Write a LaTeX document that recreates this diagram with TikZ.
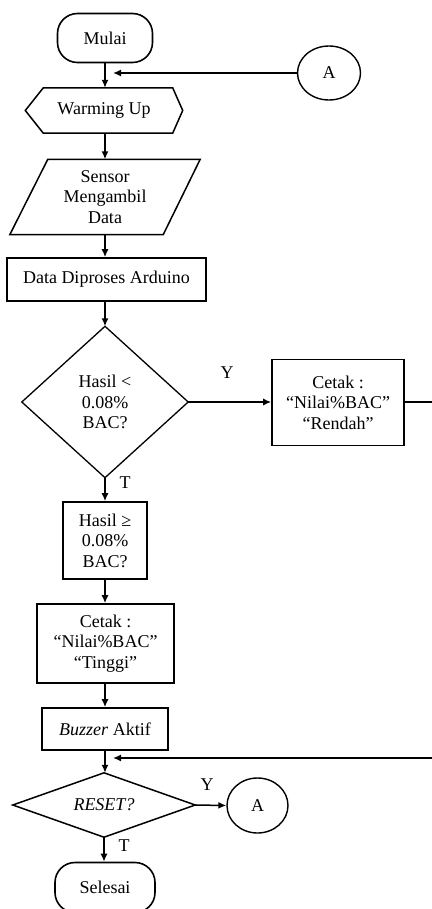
\documentclass[tikz,border=0pt]{standalone}
\usepackage{fontspec}
\setmainfont{Liberation Serif}
\usetikzlibrary{shapes.geometric,arrows.meta,calc}
\begin{document}
\begin{tikzpicture}[x=1pt,y=-1pt,
  every node/.style={font=\fontsize{18}{20.5}\selectfont, align=center, inner sep=0pt},
  line/.style={line width=1.5pt},
  arr/.style={line width=1.5pt,-{Latex[length=8pt,width=7pt]}},
  box/.style={draw, line width=1.6pt, rectangle},
  term/.style={draw, line width=1.6pt, rectangle, rounded corners=20pt},
  conn/.style={draw, line width=1.4pt, ellipse}
]
\useasboundingbox (0,0) rectangle (431,909);

% nodes
\node[term, minimum width=95pt, minimum height=49pt] (mulai) at (105,38) {Mulai};
\node[conn, minimum width=63pt, minimum height=54pt] (a1) at (329,73) {A};
\node[minimum width=157pt, minimum height=45pt] (warm) at (104,110.5) {Warming Up};
\draw[line] (warm.west) -- ($(warm.north west)+(18,0)$) -- ($(warm.north east)+(-10,0)$) -- (warm.east) -- ($(warm.south east)+(-10,0)$) -- ($(warm.south west)+(18,0)$) -- cycle;

\node[minimum width=190pt, minimum height=75pt] (sensor) at (105,197) {Sensor\\Mengambil\\Data};
\draw[line] ($(sensor.north west)+(38,0)$) -- (sensor.north east) -- ($(sensor.south east)+(-37,0)$) -- (sensor.south west) -- cycle;

\node[box, minimum width=199pt, minimum height=43pt] (proc) at (106.5,279.5) {Data Diproses Arduino};

\node[minimum width=166pt, minimum height=151pt] (d1) at (105,402) {Hasil <\\0.08\%\\BAC?};
\draw[line width=1.3pt] (d1.north) -- (d1.east) -- (d1.south) -- (d1.west) -- cycle;

\node[box, minimum width=132pt, minimum height=86pt] (c1) at (338,402.5) {Cetak :\\“Nilai\%BAC”\\“Rendah”};

\node[box, minimum width=84pt, minimum height=77pt] (h2) at (105,540.5) {Hasil ≥\\0.08\%\\BAC?};
\node[box, minimum width=137pt, minimum height=79pt] (c2) at (105.5,643.5) {Cetak :\\“Nilai\%BAC”\\“Tinggi”};
\node[box, minimum width=126pt, minimum height=42pt] (buz) at (105,729) {\textit{Buzzer} Aktif};

\node[minimum width=182pt, minimum height=64pt] (d2) at (104,805) {\textit{RESET?}};
\draw[line] (d2.north) -- (d2.east) -- (d2.south) -- (d2.west) -- cycle;

\node[conn, minimum width=61pt, minimum height=55pt] (a2) at (257.5,805.5) {A};
\node[term, minimum width=100pt, minimum height=50pt] (sel) at (105,887.5) {Selesai};

% labels
\node (y1) at (227,373) {Y};
\node (t1) at (125,483) {T};
\node (y2) at (207,785) {Y};
\node (t2) at (124,846) {T};

% connectors
\coordinate (m1) at (113,73);
\coordinate (m2) at (113,758);
\coordinate (r1) at (434,402);
\draw[arr] (mulai.south) -- (mulai.south |- warm.north);
\draw[arr] (a1.west) -- (m1);
\draw[arr] (warm.south -| mulai.south) -- (mulai.south |- sensor.north);
\draw[arr] (sensor.south) -- (sensor.south |- proc.north);
\draw[arr] (proc.south -| d1.north) -- (d1.north);
\draw[arr] (d1.east) -- (d1.east -| c1.west);
\draw[arr] (d1.south) -- (h2.north);
\draw[arr] (h2.south) -- (h2.south |- c2.north);
\draw[arr] (h2.south |- c2.south) -- (buz.north);
\draw[arr] (buz.south) -- (buz.south |- d2.north);
\draw[arr] (c1.east |- r1) -- (r1) |- (m2);
\draw[arr] (d2.east) -- (a2.west);
\draw[arr] (d2.south) -- (d2.south |- sel.north);
\end{tikzpicture}
\end{document}
